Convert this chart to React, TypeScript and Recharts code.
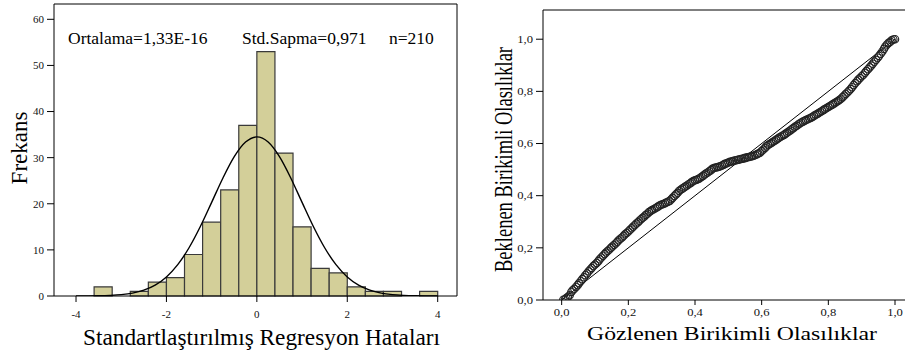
import React from 'react';
import {
  ComposedChart,
  ScatterChart,
  Scatter,
  Line,
  XAxis,
  YAxis,
  ReferenceArea,
  ReferenceLine,
} from 'recharts';

const SERIF = '"Liberation Serif", "Times New Roman", Times, serif';

// Histogram of standardized residuals (bins of width 0.4)
const binStarts = [-3.6, -2.8, -2.4, -2.0, -1.6, -1.2, -0.8, -0.4, 0.0, 0.4, 0.8, 1.2, 1.6, 2.0, 2.4, 2.8, 3.6];
const binEnds = [-3.2, -2.4, -2.0, -1.6, -1.2, -0.8, -0.4, 0.0, 0.4, 0.8, 1.2, 1.6, 2.0, 2.4, 2.8, 3.2, 4.0];
const binCounts = [2, 1, 3, 4, 9, 16, 23, 37, 53, 31, 15, 6, 5, 2, 1, 1, 1];

// Fitted normal curve (expected frequency per bin)
const curveX = [-4, -3.75, -3.5, -3.25, -3, -2.75, -2.5, -2.25, -2, -1.75, -1.5, -1.25, -1, -0.75, -0.5, -0.25, 0,
  0.25, 0.5, 0.75, 1, 1.25, 1.5, 1.75, 2, 2.25, 2.5, 2.75, 3, 3.25, 3.5, 3.75, 4];
const curveY = [0.01, 0.02, 0.05, 0.13, 0.29, 0.62, 1.26, 2.36, 4.14, 6.8, 10.46, 15.07, 20.3, 25.6, 30.22, 33.38, 34.5,
  33.38, 30.22, 25.6, 20.3, 15.07, 10.46, 6.8, 4.14, 2.36, 1.26, 0.62, 0.29, 0.13, 0.05, 0.02, 0.01];

const histXTicks = [-4, -2, 0, 2, 4];
const histYTicks = [0, 10, 20, 30, 40, 50, 60];

// Normal P-P plot: observed vs expected cumulative probabilities
const observedCum = [
  0.005, 0.010, 0.014, 0.019, 0.024, 0.029, 0.033, 0.038, 0.043, 0.048,
  0.052, 0.057, 0.062, 0.067, 0.071, 0.076, 0.081, 0.086, 0.090, 0.095,
  0.100, 0.105, 0.110, 0.114, 0.119, 0.124, 0.129, 0.133, 0.138, 0.143,
  0.148, 0.152, 0.157, 0.162, 0.167, 0.171, 0.176, 0.181, 0.186, 0.190,
  0.195, 0.200, 0.205, 0.210, 0.214, 0.219, 0.224, 0.229, 0.233, 0.238,
  0.243, 0.248, 0.252, 0.257, 0.262, 0.267, 0.271, 0.276, 0.281, 0.286,
  0.290, 0.295, 0.300, 0.305, 0.310, 0.314, 0.319, 0.324, 0.329, 0.333,
  0.338, 0.343, 0.348, 0.352, 0.357, 0.362, 0.367, 0.371, 0.376, 0.381,
  0.386, 0.390, 0.395, 0.400, 0.405, 0.410, 0.414, 0.419, 0.424, 0.429,
  0.433, 0.438, 0.443, 0.448, 0.452, 0.457, 0.462, 0.467, 0.471, 0.476,
  0.481, 0.486, 0.490, 0.495, 0.500, 0.505, 0.510, 0.514, 0.519, 0.524,
  0.529, 0.533, 0.538, 0.543, 0.548, 0.552, 0.557, 0.562, 0.567, 0.571,
  0.576, 0.581, 0.586, 0.590, 0.595, 0.600, 0.605, 0.610, 0.614, 0.619,
  0.624, 0.629, 0.633, 0.638, 0.643, 0.648, 0.652, 0.657, 0.662, 0.667,
  0.671, 0.676, 0.681, 0.686, 0.690, 0.695, 0.700, 0.705, 0.710, 0.714,
  0.719, 0.724, 0.729, 0.733, 0.738, 0.743, 0.748, 0.752, 0.757, 0.762,
  0.767, 0.771, 0.776, 0.781, 0.786, 0.790, 0.795, 0.800, 0.805, 0.810,
  0.814, 0.819, 0.824, 0.829, 0.833, 0.838, 0.843, 0.848, 0.852, 0.857,
  0.862, 0.867, 0.871, 0.876, 0.881, 0.886, 0.890, 0.895, 0.900, 0.905,
  0.910, 0.914, 0.919, 0.924, 0.929, 0.933, 0.938, 0.943, 0.948, 0.952,
  0.957, 0.962, 0.967, 0.971, 0.976, 0.981, 0.986, 0.990, 0.995, 1.000,
];
const expectedCum = [
  0.001, 0.003, 0.008, 0.012, 0.018, 0.031, 0.037, 0.043, 0.050, 0.057,
  0.064, 0.072, 0.080, 0.087, 0.095, 0.102, 0.110, 0.117, 0.123, 0.130,
  0.136, 0.142, 0.149, 0.156, 0.163, 0.170, 0.176, 0.182, 0.188, 0.194,
  0.200, 0.205, 0.211, 0.217, 0.223, 0.229, 0.235, 0.240, 0.246, 0.252,
  0.257, 0.263, 0.269, 0.275, 0.281, 0.287, 0.293, 0.298, 0.304, 0.310,
  0.315, 0.320, 0.326, 0.331, 0.337, 0.341, 0.345, 0.348, 0.352, 0.356,
  0.359, 0.363, 0.366, 0.368, 0.371, 0.374, 0.377, 0.380, 0.386, 0.392,
  0.399, 0.405, 0.411, 0.418, 0.423, 0.427, 0.431, 0.435, 0.439, 0.444,
  0.448, 0.452, 0.456, 0.459, 0.461, 0.464, 0.467, 0.472, 0.476, 0.481,
  0.485, 0.489, 0.494, 0.498, 0.503, 0.506, 0.508, 0.509, 0.511, 0.513,
  0.516, 0.519, 0.522, 0.524, 0.527, 0.530, 0.531, 0.533, 0.535, 0.536,
  0.538, 0.539, 0.541, 0.542, 0.544, 0.545, 0.547, 0.548, 0.550, 0.551,
  0.553, 0.556, 0.559, 0.562, 0.565, 0.571, 0.577, 0.583, 0.589, 0.594,
  0.598, 0.602, 0.606, 0.610, 0.614, 0.618, 0.622, 0.626, 0.630, 0.633,
  0.637, 0.641, 0.646, 0.650, 0.655, 0.659, 0.664, 0.668, 0.673, 0.677,
  0.681, 0.684, 0.687, 0.690, 0.693, 0.696, 0.699, 0.702, 0.706, 0.710,
  0.713, 0.717, 0.721, 0.725, 0.729, 0.732, 0.736, 0.740, 0.744, 0.748,
  0.751, 0.755, 0.759, 0.763, 0.767, 0.772, 0.778, 0.784, 0.790, 0.796,
  0.802, 0.809, 0.816, 0.824, 0.832, 0.839, 0.845, 0.851, 0.858, 0.864,
  0.871, 0.878, 0.885, 0.892, 0.899, 0.906, 0.914, 0.921, 0.929, 0.936,
  0.944, 0.953, 0.963, 0.972, 0.980, 0.986, 0.990, 0.996, 0.999, 1.000,
];
const ppTicks = [0, 0.2, 0.4, 0.6, 0.8, 1.0];

const curveData = curveX.map((x, i) => ({ x, y: curveY[i] }));
const ppData = observedCum.map((x, i) => ({ x, y: expectedCum[i] }));

const fmtComma = (v: number) => v.toFixed(1).replace('.', ',');

const axisStroke = { stroke: '#000', strokeWidth: 1 };

const PPTickY = (props: any) => {
  const { x, y, payload } = props;
  return (
    <g transform={`translate(${x},${y})`}>
      <text transform="scale(1.2,1)" textAnchor="end" dy="0.35em" fontSize={10.5} fontFamily={SERIF} fill="#111">
        {fmtComma(payload.value)}
      </text>
    </g>
  );
};

const PPTickX = (props: any) => {
  const { x, y, payload } = props;
  return (
    <g transform={`translate(${x},${y})`}>
      <text transform="scale(1.2,1)" textAnchor="middle" dy="0.71em" fontSize={10.5} fontFamily={SERIF} fill="#111">
        {fmtComma(payload.value)}
      </text>
    </g>
  );
};

function Histogram() {
  return (
    <ComposedChart width={466} height={356} margin={{ top: 4, right: 9, bottom: 0, left: 0 }}>
      <XAxis
        type="number"
        dataKey="x"
        domain={[-4.487, 4.427]}
        allowDataOverflow
        ticks={histXTicks}
        height={60}
        tickSize={6}
        tickMargin={8}
        axisLine={axisStroke}
        tickLine={axisStroke}
        tick={{ fontSize: 11, fill: '#111', fontFamily: SERIF }}
      />
      <YAxis
        type="number"
        domain={[0, 63.32]}
        allowDataOverflow
        ticks={histYTicks}
        width={54}
        tickSize={7}
        tickMargin={3}
        axisLine={axisStroke}
        tickLine={axisStroke}
        tick={{ fontSize: 11, fill: '#111', fontFamily: SERIF }}
      />
      {binCounts.map((c, i) => (
        <ReferenceArea
          key={i}
          x1={binStarts[i]}
          x2={binEnds[i]}
          y1={0}
          y2={c}
          fill="#d3cf99"
          fillOpacity={1}
          stroke="#3a3a3a"
          strokeWidth={1.2}
        />
      ))}
      <ReferenceLine y={63.32} stroke="#000" strokeWidth={1} />
      <ReferenceLine x={4.427} stroke="#000" strokeWidth={1} />
      <Line
        data={curveData}
        dataKey="y"
        type="monotone"
        stroke="#000"
        strokeWidth={1.4}
        dot={false}
        isAnimationActive={false}
      />
    </ComposedChart>
  );
}

function PPPlot() {
  return (
    <ScatterChart width={439} height={356} margin={{ top: 10, right: 0, bottom: 0, left: 0 }}>
      <XAxis
        type="number"
        dataKey="x"
        domain={[-0.056, 1.03]}
        allowDataOverflow
        ticks={ppTicks}
        height={56}
        tickSize={5}
        tickMargin={4}
        axisLine={axisStroke}
        tickLine={axisStroke}
        tick={<PPTickX />}
      />
      <YAxis
        type="number"
        dataKey="y"
        domain={[0, 1.112]}
        allowDataOverflow
        ticks={ppTicks}
        width={77}
        tickSize={7}
        tickMargin={3}
        axisLine={axisStroke}
        tickLine={axisStroke}
        tick={<PPTickY />}
      />
      <ReferenceLine y={1.112} stroke="#000" strokeWidth={1} />
      <ReferenceLine
        segment={[{ x: 0, y: 0 }, { x: 1, y: 1 }]}
        stroke="#000"
        strokeWidth={1}
      />
      <Scatter
        data={ppData}
        isAnimationActive={false}
        shape={(p: any) => (
          <circle cx={p.cx} cy={p.cy} r={3.7} fill="none" stroke="#222" strokeWidth={1.15} />
        )}
      />
    </ScatterChart>
  );
}

export default function App() {
  return (
    <div style={{ position: 'absolute', left: 0, top: 0, width: 905, height: 356, background: '#fff', overflow: 'hidden' }}>
      <div style={{ position: 'absolute', left: 0, top: 0 }}>
        <Histogram />
      </div>
      <div style={{ position: 'absolute', left: 466, top: 0 }}>
        <PPPlot />
      </div>
      <svg
        width={905}
        height={356}
        style={{ position: 'absolute', left: 0, top: 0, pointerEvents: 'none' }}
        fontFamily={SERIF}
        fill="#000"
      >
        <text x={68} y={43.5} fontSize={17.5}>Ortalama=1,33E-16</text>
        <text x={242} y={43.5} fontSize={17.5}>Std.Sapma=0,971</text>
        <text x={389} y={43.5} fontSize={17.5}>n=210</text>
        <text transform="translate(27,148) rotate(-90)" textAnchor="middle" fontSize={23}>Frekans</text>
        <text x={261.5} y={345} textAnchor="middle" fontSize={23.3} textLength={357} lengthAdjust="spacingAndGlyphs">
          Standartlaştırılmış Regresyon Hataları
        </text>
        <text
          transform="translate(512,159.5) scale(1.35,1) rotate(-90)"
          textAnchor="middle"
          fontSize={18.5}
          textLength={225}
          lengthAdjust="spacingAndGlyphs"
        >
          Beklenen Birikimli Olasılıklar
        </text>
        <text x={732} y={340} textAnchor="middle" fontSize={19.5} textLength={290} lengthAdjust="spacingAndGlyphs">
          Gözlenen Birikimli Olasılıklar
        </text>
      </svg>
    </div>
  );
}
